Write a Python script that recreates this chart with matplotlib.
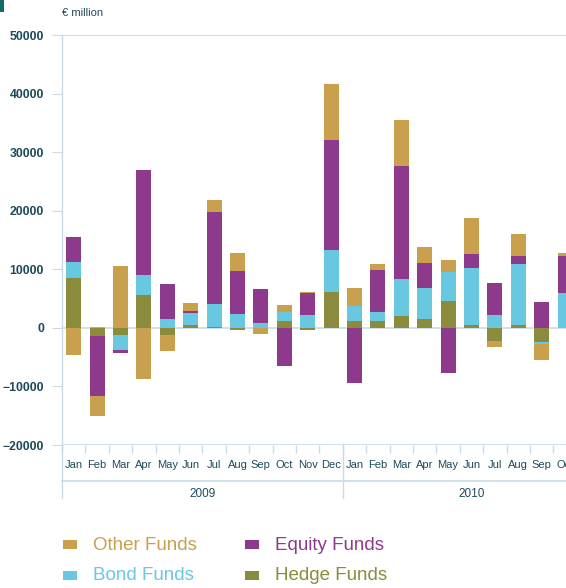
import matplotlib
matplotlib.use("Agg")
import matplotlib.pyplot as plt
import matplotlib.patches as patches
import numpy as np

plt.rcParams["font.family"] = ["Liberation Sans", "DejaVu Sans"]

MONTHS = ["Jan", "Feb", "Mar", "Apr", "May", "Jun", "Jul", "Aug", "Sep", "Oct", "Nov", "Dec",
          "Jan", "Feb", "Mar", "Apr", "May", "Jun", "Jul", "Aug", "Sep", "Oct"]
YEARS = ["2009", "2010"]

# net sales, EUR thousand million (x1000 below)
hedge = [8.5, -1.4, -1.25, 5.6, -1.25, 0.45, 0.1, -0.35, 0.0, 1.15, -0.35, 6.1,
         1.15, 1.15, 2.0, 1.5, 4.55, 0.45, -2.25, 0.45, -2.45, 0.0]
bond = [2.7, 0.15, -2.55, 3.4, 1.5, 2.05, 3.9, 2.35, 0.75, 1.55, 2.15, 7.15,
        2.55, 1.55, 6.3, 5.3, 4.95, 9.7, 2.15, 10.4, -0.35, 5.9]
equity = [4.3, -10.2, -0.5, 17.9, 5.95, 0.35, 15.7, 7.35, 5.95, -6.5, 3.75, 18.9,
          -9.45, 7.15, 19.25, 4.25, -7.7, 2.4, 5.45, 1.35, 4.35, 6.3]
other = [-4.7, -3.4, 10.5, -8.75, -2.75, 1.35, 2.05, 3.05, -1.05, 1.2, 0.15, 9.4,
         3.05, 1.0, 8.0, 2.75, 2.05, 6.15, -1.0, 3.9, -2.75, 0.5]

SERIES = [("Hedge Funds", hedge, "#8a8b3c"),
          ("Bond Funds", bond, "#68c8e2"),
          ("Equity Funds", equity, "#8e3a8c"),
          ("Other Funds", other, "#c8a04e")]

LINE = "#c9dce5"
TXT = "#1d4a5a"

fig = plt.figure(figsize=(5.66, 5.88), dpi=100)
W, H = 566.0, 588.0
x0, step = 62.0, 23.4
n = len(MONTHS)
ax = fig.add_axes([x0 / W, (H - 445) / H, n * step / W, 410 / H])

x = np.arange(n)
pos_base = np.zeros(n)
neg_base = np.zeros(n)
for name, vals, col in SERIES:
    v = np.array(vals) * 1000
    bottom = np.where(v >= 0, pos_base, neg_base)
    ax.bar(x, v, bottom=bottom, width=0.64, color=col, linewidth=0, zorder=2)
    pos_base += np.where(v >= 0, v, 0)
    neg_base += np.where(v < 0, v, 0)

ax.set_xlim(-0.5, n - 0.5)
ax.set_ylim(-20000, 50000)
for s in ["top", "right", "bottom"]:
    ax.spines[s].set_visible(False)
ax.spines["left"].set_color(LINE)
ax.spines["left"].set_linewidth(1)
for yv in [-20000, 0, 50000]:
    ax.axhline(yv, color=LINE, lw=1.2, zorder=1)

ax.set_yticks(np.arange(-20000, 50001, 10000))
ax.tick_params(axis="y", length=7, color=LINE, labelsize=8.8, labelcolor=TXT, pad=6)
for lab in ax.get_yticklabels():
    lab.set_fontweight("bold")

ax.set_xticks(np.arange(n + 1) - 0.5)
ax.set_xticklabels([])
ax.tick_params(axis="x", length=6, color=LINE, width=1)
for i, m in enumerate(MONTHS):
    ax.text(i, -(465 - 445) / 410, m, transform=ax.get_xaxis_transform(), ha="center",
            va="center", fontsize=8, color=TXT)

# year band
trans = ax.get_xaxis_transform()
yl = -(481 - 445) / 410
ax.plot([-0.5, n + 1], [yl, yl], transform=trans, color=LINE, lw=1.2, clip_on=False)
for xb in [-0.5, 11.5]:
    ax.plot([xb, xb], [0, -(498 - 445) / 410], transform=trans, color=LINE, lw=1,
            clip_on=False)
ax.text(5.5, -(494 - 445) / 410, YEARS[0], transform=trans, ha="center", va="center",
        fontsize=8.5, color=TXT)
ax.text(17.0, -(494 - 445) / 410, YEARS[1], transform=trans, ha="center", va="center",
        fontsize=8.5, color=TXT)

fig.text(62 / W, 1 - 13 / H, "€ million", fontsize=8, color=TXT, ha="left", va="center")
fig.patches.append(patches.Rectangle((0, 1 - 12 / H), 4 / W, 12 / H, transform=fig.transFigure,
                                     facecolor="#14696b", edgecolor="none"))

# legend
legend_items = [("Other Funds", "#c8a04e", 63, 545), ("Equity Funds", "#8e3a8c", 245, 545),
                ("Bond Funds", "#68c8e2", 63, 576), ("Hedge Funds", "#8a8b3c", 245, 576)]
for name, col, lx, ly in legend_items:
    fig.patches.append(patches.Rectangle((lx / W, 1 - (ly + 4) / H), 14 / W, 9 / H,
                                         transform=fig.transFigure, facecolor=col,
                                         edgecolor="none"))
    fig.text((lx + 30) / W, 1 - ly / H, name, fontsize=13.5, color=col, ha="left", va="center")

fig.savefig("out.png", dpi=100)
